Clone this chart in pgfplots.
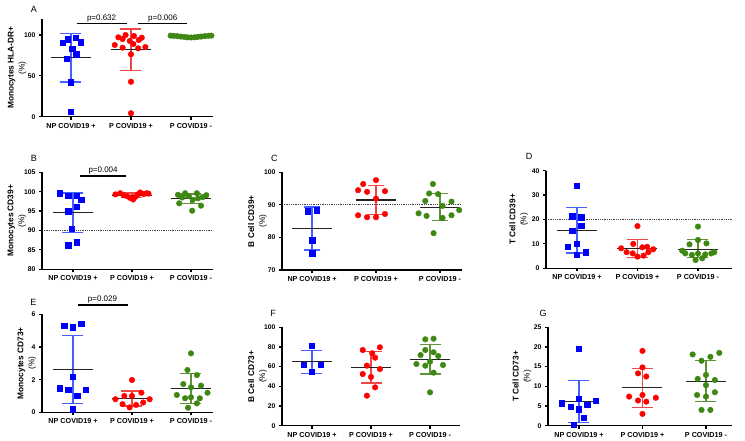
\documentclass[border=0pt]{standalone}
\usepackage{fontspec}
\setmainfont{Liberation Sans}
\usepackage{pgfplots}
\pgfplotsset{compat=1.18}
\definecolor{mblue}{RGB}{0,0,255}
\definecolor{mred}{RGB}{255,0,0}
\definecolor{mgreen}{RGB}{62,135,18}
\definecolor{eblue}{RGB}{70,95,255}
\definecolor{ered}{RGB}{240,70,70}
\definecolor{egreen}{RGB}{95,145,55}
\definecolor{meancol}{RGB}{35,35,35}

\pgfplotsset{
 prism/.style={
   scale only axis, anchor=south west, clip=false,
   axis lines=left, axis line style={-, line width=1.3pt, black},
   tick align=outside, major tick length=3pt,
   tick style={black, line width=1.2pt},
   xtick={0,1,2}, xticklabels={NP COVID19 +, P COVID19 +, P COVID19 -},
   xticklabel style={font=\fontsize{7.2}{8}\selectfont\bfseries},
   yticklabel style={font=\fontsize{6.8}{8}\selectfont\bfseries},
   /pgf/number format/assume math mode=true,
   ylabel style={align=center, font=\fontsize{8.3}{11}\selectfont\bfseries, anchor=center},
 },
 sq/.style={only marks, mark=square*, mark size=2.7pt, color=mblue},
 rc/.style={only marks, mark=*, mark size=2.8pt, color=mred},
 gc/.style={only marks, mark=*, mark size=2.8pt, color=mgreen},
}
% x, mean, lo, hi, colour, cap half-length
\newcommand{\msd}[6]{%
  \addplot[#5, line width=1.3pt] coordinates {(#1,#3) (#1,#4)};
  \addplot[#5, only marks, mark=-, mark size=#6, mark options={line width=1.3pt}] coordinates {(#1,#3) (#1,#4)};
  \addplot[meancol, only marks, mark=-, mark size=20pt, mark options={line width=1.3pt}] coordinates {(#1,#2)};
}

\begin{document}
\begin{tikzpicture}
\useasboundingbox (0,0) rectangle (745pt,441pt);

% ---------------- A ----------------
\begin{axis}[prism, at={(42pt,324.3pt)}, width=171pt, height=98pt,
  xmin=-0.483, xmax=2.367, ymin=0, ymax=120, ytick={0,50,100},
  ylabel={Monocytes HLA-DR+\\\mdseries(\%)},
  ylabel style={at={(axis description cs:-0.145,0.5)}}]
\addplot[black, line width=1.1pt] coordinates {(0.095,113.8) (0.93,113.8)};
\addplot[black, line width=1.1pt] coordinates {(1.12,113.8) (1.94,113.8)};
\node[font=\fontsize{8}{9}\selectfont, anchor=base] at (axis cs:0.51,117.5) {p=0.632};
\node[font=\fontsize{8}{9}\selectfont, anchor=base] at (axis cs:1.53,117.5) {p=0.006};
\msd{0}{72.5}{42.5}{102}{eblue}{10.5pt}
\msd{1}{82}{56.5}{107.5}{ered}{10.5pt}
\msd{2}{98.2}{97.2}{99.2}{egreen}{10.5pt}
\addplot[sq] coordinates {(-0.14,90.6) (-0.055,94.7) (0.083,96.7) (0.16,91.4) (0.02,82.9) (0.09,76.7) (-0.07,71.0) (0,42.1) (0,6.1)};
\addplot[rc] coordinates {(0.79,97.2) (0.91,100) (1.05,98.8) (1.18,96.7) (0.73,87.8) (0.86,84.5) (0.98,92.7) (1.12,83.7) (1.24,85.3) (1,76.4) (1,42.8) (1,4.2) (0.86,95.1) (1.13,93.9) (1.04,89.0)};
\addplot[gc] coordinates {(1.66,99.3) (1.71,99.0) (1.77,98.6) (1.83,98.1) (1.89,97.6) (1.94,97.2) (2,97.0) (2.06,97.2) (2.11,97.6) (2.17,98.1) (2.23,98.6) (2.29,99.0) (2.34,99.3)};
\end{axis}

% ---------------- B ----------------
\begin{axis}[prism, at={(42pt,171.7pt)}, width=171pt, height=97pt,
  xmin=-0.525, xmax=2.373, ymin=80, ymax=105, ytick={80,85,...,105},
  ylabel={Monocytes CD39+\\\mdseries(\%)},
  ylabel style={at={(axis description cs:-0.147,0.5)}}]
\addplot[densely dotted, line width=0.8pt, black!75] coordinates {(-0.525,90) (2.373,90)};
\addplot[black, line width=1.1pt] coordinates {(0.12,104.05) (0.905,104.05)};
\node[font=\fontsize{8}{9}\selectfont, anchor=base] at (axis cs:0.51,104.9) {p=0.004};
\msd{0}{94.6}{89.4}{99.7}{eblue}{10.5pt}
\msd{1}{99.1}{98.5}{99.7}{ered}{10.5pt}
\msd{2}{98.2}{97.0}{99.4}{egreen}{10.5pt}
\addplot[sq] coordinates {(-0.23,99.6) (-0.08,99.0) (0.06,99.0) (0.14,98.0) (0.06,96.1) (-0.08,95.0) (-0.02,90.5) (0.06,87.0) (-0.08,86.2)};
\addplot[rc] coordinates {(0.72,99.3) (0.8,99.6) (0.86,99.1) (0.92,98.8) (0.97,98.4) (1.02,98.0) (1.06,98.7) (1.1,99.3) (1.14,99.8) (1.2,99.4) (1.25,99.6) (1.28,99.5)};
\addplot[gc] coordinates {(1.78,99.2) (1.9,99.6) (2.1,99.6) (2.26,99.1) (1.85,98.5) (2.2,98.6) (1.8,97.0) (2.03,97.9) (2.17,96.4) (2.02,95.1) (1.95,98.9) (2.12,98.3)};
\end{axis}

% ---------------- C ----------------
\begin{axis}[prism, at={(282pt,171pt)}, width=180pt, height=97.7pt,
  xmin=-0.469, xmax=2.344, ymin=70, ymax=100, ytick={70,80,90,100},
  ylabel={B Cell CD39+\\\mdseries(\%)},
  ylabel style={at={(axis description cs:-0.136,0.5)}}]
\addplot[densely dotted, line width=0.8pt, black!75] coordinates {(-0.469,90) (2.344,90)};
\msd{0}{82.7}{76.1}{89.3}{eblue}{8pt}
\msd{1}{91.5}{87.0}{96.0}{ered}{8pt}
\msd{2}{89.2}{85.1}{93.5}{egreen}{8pt}
\addplot[sq] coordinates {(-0.07,88.1) (0.07,88.4) (0,79.2) (0,75.1)};
\addplot[rc] coordinates {(0.8,96.4) (1,97.6) (0.72,94.5) (0.86,94.0) (1.14,94.2) (1,91.9) (0.72,86.8) (0.86,86.2) (1,86.2) (1.14,87.2)};
\addplot[gc] coordinates {(1.89,96.4) (1.83,93.5) (1.97,93.3) (1.77,91.2) (2.04,89.7) (2.18,91.0) (1.665,87.4) (1.79,86.6) (2.04,86.0) (2.18,86.8) (2.3,88.4) (1.9,81.3)};
\end{axis}

% ---------------- D ----------------
\begin{axis}[prism, at={(546pt,172.7pt)}, width=186pt, height=97.6pt,
  xmin=-0.512, xmax=2.562, ymin=0, ymax=40, ytick={0,10,...,40},
  ylabel={T Cell CD39+\\\mdseries(\%)},
  ylabel style={at={(axis description cs:-0.147,0.5)}}]
\addplot[densely dotted, line width=0.8pt, black!75] coordinates {(-0.512,20) (2.562,20)};
\msd{0}{15.6}{6.3}{24.8}{eblue}{10.5pt}
\msd{1}{8.2}{4.5}{11.9}{ered}{10.5pt}
\msd{2}{7.8}{4.5}{11.9}{egreen}{10.5pt}
\addplot[sq] coordinates {(0,33.9) (-0.08,21.4) (0.07,21.0) (0.07,17.5) (-0.08,15.4) (0,10.0) (-0.15,8.9) (0.14,6.6) (0,5.5)};
\addplot[rc] coordinates {(1,17.3) (0.93,10.0) (1.08,8.6) (0.73,8.2) (1.26,7.8) (0.82,6.6) (1.18,6.6) (0.92,6.1) (1,4.8) (1.1,5.2) (1.16,8.8)};
\addplot[gc] coordinates {(2,17.1) (2,11.6) (1.86,9.8) (2.14,10.2) (1.79,6.1) (1.9,5.5) (2,6.1) (2.12,5.7) (2.22,6.1) (1.96,3.4) (2.07,4.1) (1.74,7.2) (2.27,6.6)};
\end{axis}

% ---------------- E ----------------
\begin{axis}[prism, at={(42pt,28.7pt)}, width=171pt, height=98pt,
  xmin=-0.525, xmax=2.373, ymin=0, ymax=6, ytick={0,2,4,6},
  ylabel={Monocytes CD73+\\\mdseries(\%)},
  ylabel style={at={(axis description cs:-0.089,0.5)}}]
\addplot[black, line width=1.1pt] coordinates {(0.08,6.57) (0.93,6.57)};
\node[font=\fontsize{8}{9}\selectfont, anchor=base] at (axis cs:0.5,6.8) {p=0.029};
\msd{0}{2.6}{0.53}{4.69}{eblue}{10.5pt}
\msd{1}{0.86}{0.39}{1.3}{ered}{10.5pt}
\msd{2}{1.47}{0.55}{2.39}{egreen}{10.5pt}
\addplot[sq] coordinates {(-0.15,5.30) (0,5.20) (0.14,5.41) (0,2.18) (-0.23,1.47) (-0.08,1.37) (0.22,1.37) (0.07,1.0) (0,0.18)};
\addplot[rc] coordinates {(1,1.98) (0.87,1.0) (1,1.0) (1.16,1.2) (0.72,0.8) (1.3,0.8) (0.84,0.5) (0.96,0.3) (1.07,0.45) (1.19,0.6)};
\addplot[gc] coordinates {(2,3.61) (1.94,2.59) (2.1,2.28) (1.87,1.73) (2,1.53) (2.17,1.63) (1.76,1.06) (2.28,1.2) (1.9,0.86) (2,0.92) (2.15,0.86) (1.95,0.28) (2.1,0.55)};
\end{axis}

% ---------------- F ----------------
\begin{axis}[prism, at={(282pt,15.3pt)}, width=178pt, height=98.4pt,
  xmin=-0.508, xmax=2.508, ymin=0, ymax=100, ytick={0,20,...,100},
  ylabel={B Cell CD73+\\\mdseries(\%)},
  ylabel style={at={(axis description cs:-0.138,0.5)}}]
\msd{0}{65}{53.2}{76.2}{eblue}{10.5pt}
\msd{1}{58.9}{43.4}{75.2}{ered}{10.5pt}
\msd{2}{67.4}{52.5}{82.7}{egreen}{10.5pt}
\addplot[sq] coordinates {(0,81.3) (-0.14,61.7) (0.15,61.7) (0,54.9)};
\addplot[rc] coordinates {(0.86,76.9) (1.02,73.6) (1.15,79.7) (1.07,69.1) (0.93,61.0) (1.15,57.6) (0.86,52.5) (1,49.5) (1.07,39.0) (0.93,30.5)};
\addplot[gc] coordinates {(1.92,87.8) (2.06,88.4) (1.92,76.9) (2.06,74.6) (1.84,71.8) (2.14,70.8) (1.77,62.7) (1.92,61.0) (2,65.0) (2.22,61.7) (2.06,53.9) (2,33.9)};
\end{axis}

% ---------------- G ----------------
\begin{axis}[prism, at={(548pt,15.3pt)}, width=184pt, height=98.4pt,
  xmin=-0.488, xmax=2.41, ymin=0, ymax=25, ytick={0,5,...,25},
  ylabel={T Cell CD73+\\\mdseries(\%)},
  ylabel style={at={(axis description cs:-0.141,0.5)}}]
\msd{0}{6.1}{0.8}{11.4}{eblue}{10.5pt}
\msd{1}{9.7}{4.6}{14.6}{ered}{10.5pt}
\msd{2}{11.3}{6.1}{16.5}{egreen}{10.5pt}
\addplot[sq] coordinates {(0,19.5) (0,6.8) (-0.27,5.7) (-0.13,4.8) (0,4.2) (0.13,5.3) (0.26,6.3) (0.07,2.0) (-0.08,0.2)};
\addplot[rc] coordinates {(1,19.0) (1,14.8) (0.93,13.3) (1.06,12.5) (1,7.8) (0.79,7.4) (1.21,7.1) (0.93,6.4) (1.06,6.1) (1,3.0)};
\addplot[gc] coordinates {(1.79,18.1) (1.93,16.5) (2.07,17.5) (2.21,18.5) (2,12.9) (1.87,11.9) (2.14,11.6) (2,10.3) (1.86,7.8) (2.14,8.5) (2,7.4) (1.93,4.0) (2.07,4.0)};
\end{axis}

% panel letters
\node[font=\fontsize{9}{10}\selectfont] at (34pt,431.7pt) {A};
\node[font=\fontsize{9}{10}\selectfont] at (34pt,283pt) {B};
\node[font=\fontsize{9}{10}\selectfont] at (274.3pt,283pt) {C};
\node[font=\fontsize{9}{10}\selectfont] at (529pt,284.7pt) {D};
\node[font=\fontsize{9}{10}\selectfont] at (33.3pt,139pt) {E};
\node[font=\fontsize{9}{10}\selectfont] at (273pt,127.7pt) {F};
\node[font=\fontsize{9}{10}\selectfont] at (543pt,127.7pt) {G};
\end{tikzpicture}
\end{document}
